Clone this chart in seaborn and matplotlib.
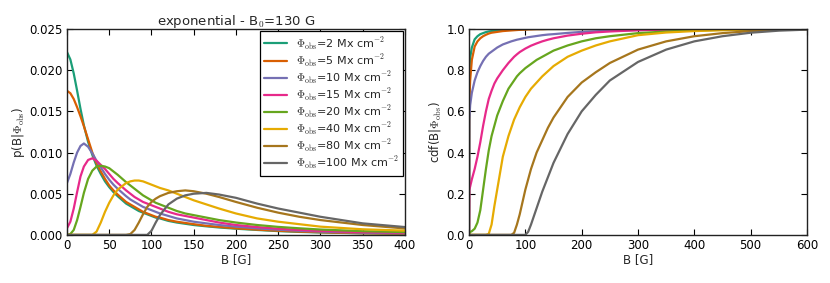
import matplotlib
matplotlib.use("Agg")
import matplotlib.pyplot as plt
import numpy as np
import pandas as pd
import seaborn as sns

# observed flux labels
phi_obs = [2, 5, 10, 15, 20, 40, 80, 100]
labels = [r"$\Phi_\mathrm{obs}$=%d Mx cm$^{-2}$" % p for p in phi_obs]

# posterior p(B|Phi_obs)
pdf_B = [0, 4, 8, 12, 16, 20, 25, 30, 35, 40, 45, 50, 55, 60, 70, 75, 80, 85,
         90, 95, 100, 105, 110, 120, 130, 140, 150, 165, 180, 200, 225, 250,
         275, 300, 350, 400]
pdf_2 = [.0222, .0213, .0196, .0175, .0153, .0133, .0113, .0097, .0084, .0074,
         .0065, .0058, .0052, .0047, .0038, .0035, .0032, .0029, .0027, .0025,
         .0023, .0021, .0020, .0017, .0015, .00135, .0012, .00104, .0009,
         .00075, .0006, .00046, .00036, .00029, .00019, .00013]
pdf_5 = [.0175, .0172, .0165, .0155, .0144, .0132, .0116, .0100, .0087, .0077,
         .0068, .0060, .0054, .0049, .0040, .0037, .0034, .0031, .0028, .0026,
         .0024, .0022, .0021, .0018, .0016, .00145, .0013, .0011, .00097,
         .0008, .00064, .0005, .0004, .00032, .0002, .00015]
pdf_10 = [.0063, .0074, .0088, .0100, .0108, .0111, .0107, .0099, .0090, .0082,
          .0074, .0067, .0061, .0056, .0047, .0043, .0040, .0037, .0034, .0032,
          .0030, .0028, .0026, .0023, .0020, .0018, .0016, .0014, .0012,
          .0010, .0008, .00063, .0005, .0004, .00027, .0002]
pdf_15 = [.0008, .0016, .0032, .0052, .0071, .0083, .0091, .0093, .0090, .0085,
          .0080, .0074, .0068, .0063, .0054, .0050, .0046, .0043, .0040, .0038,
          .0036, .0034, .0032, .0028, .0025, .0023, .0021, .0018, .0015,
          .0012, .00095, .00075, .0006, .00048, .00033, .00026]
pdf_20 = [0.0, .0001, .0006, .0018, .0034, .0051, .0068, .0078, .0083, .0084,
          .0083, .0081, .0077, .0073, .0064, .0060, .0056, .0052, .0048, .0045,
          .0042, .0039, .0037, .0033, .0029, .0026, .0024, .0021, .0018,
          .0015, .0012, .00097, .0008, .00065, .00045, .00034]
pdf_40 = [0, 0, 0, 0, 0, 0, 0, 0, .0004, .0015,
          .0028, .0039, .0048, .0055, .0063, .0065, .0066, .0066, .0065, .0063,
          .0061, .0059, .0057, .0054, .0050, .0046, .0042, .0037, .0032,
          .0026, .0020, .0016, .0013, .0010, .00068, .00052]
pdf_80 = [0, 0, 0, 0, 0, 0, 0, 0, 0, 0,
          0, 0, 0, 0, 0, .0001, .0006, .0015, .0025, .0034,
          .0040, .0044, .0047, .0051, .0053, .0054, .0053, .0050, .0046,
          .0040, .0033, .0027, .0022, .0018, .0012, .00078]
pdf_100 = [0, 0, 0, 0, 0, 0, 0, 0, 0, 0,
           0, 0, 0, 0, 0, 0, 0, 0, 0, 0,
           .0005, .0015, .0024, .0037, .0044, .0048, .0050, .0051, .0049,
           .0045, .0038, .0032, .0027, .0022, .0014, .00095]

# cumulative distribution
cdf_B = [0, 0.5, 2, 5, 10, 15, 20, 25, 30, 35, 40, 45, 50, 60, 70, 75, 80, 85,
         90, 100, 105, 110, 120, 130, 140, 150, 175, 200, 225, 250, 300, 350,
         400, 450, 500, 550, 600]
cdf_2 = [0, .80, .86, .91, .95, .965, .975, .98, .985, .988, .99, .991, .993,
         .995, .996, .997, .997, .998, .998, .999] + [1.0] * 17
cdf_5 = [0, .65, .75, .85, .915, .94, .955, .965, .972, .978, .982, .984, .986,
         .99, .992, .993, .994, .995, .996, .997, .998, .998, .999, .999] + [1.0] * 13
cdf_10 = [0, .56, .63, .69, .75, .79, .82, .845, .865, .88, .89, .90, .91,
          .925, .935, .94, .944, .948, .951, .957, .96, .962, .966, .97, .973,
          .975, .981, .986, .989, .992, .995, .997, .998, .999, .999, 1.0, 1.0]
cdf_15 = [0, .22, .235, .27, .32, .38, .45, .53, .60, .66, .70, .735, .76,
          .80, .835, .85, .865, .877, .888, .905, .912, .919, .93, .94, .948,
          .955, .968, .977, .984, .988, .994, .997, .998, .999, 1.0, 1.0, 1.0]
cdf_20 = [0, .012, .014, .018, .03, .06, .12, .22, .32, .41, .48, .53, .58,
          .65, .71, .73, .75, .77, .785, .81, .82, .83, .85, .865, .88, .895,
          .92, .94, .955, .965, .98, .988, .993, .996, .998, .999, 1.0]
cdf_40 = [0] * 9 + [.005, .05, .14, .22, .38, .48, .52, .56, .59, .62, .67,
                    .69, .71, .74, .77, .795, .82, .865, .895, .92, .94, .97,
                    .983, .99, .994, .997, .999, 1.0]
cdf_80 = [0] * 16 + [.01, .05, .10, .22, .27, .32, .40, .46, .52, .57, .67,
                     .74, .79, .835, .90, .94, .965, .98, .99, .996, 1.0]
cdf_100 = [0] * 20 + [.015, .05, .13, .21, .28, .35, .49, .60, .68, .75, .84,
                      .90, .94, .965, .982, .992, .997]

pdf_all = [pdf_2, pdf_5, pdf_10, pdf_15, pdf_20, pdf_40, pdf_80, pdf_100]
cdf_all = [cdf_2, cdf_5, cdf_10, cdf_15, cdf_20, cdf_40, cdf_80, cdf_100]

pdf_df = pd.DataFrame([(lab, b, v) for lab, vals in zip(labels, pdf_all)
                       for b, v in zip(pdf_B, vals)], columns=["label", "B", "p"])
cdf_df = pd.DataFrame([(lab, b, v) for lab, vals in zip(labels, cdf_all)
                       for b, v in zip(cdf_B, vals)], columns=["label", "B", "c"])

sns.set_style("ticks", {"xtick.direction": "in", "ytick.direction": "in"})
plt.rcParams["font.family"] = ["DejaVu Sans"]
plt.rcParams["mathtext.fontset"] = "cm"
colors = sns.color_palette("Dark2", 8)

fig = plt.figure(figsize=(8.3, 2.83), dpi=100)
ax1 = fig.add_axes([0.0807, 0.170, 0.4072, 0.7275])
ax2 = fig.add_axes([0.5651, 0.170, 0.4072, 0.7275])

sns.lineplot(data=pdf_df, x="B", y="p", hue="label", hue_order=labels,
             palette=colors, lw=1.6, ax=ax1, estimator=None)
sns.lineplot(data=cdf_df, x="B", y="c", hue="label", hue_order=labels,
             palette=colors, lw=1.6, ax=ax2, estimator=None, legend=False)

handles, labs = ax1.get_legend_handles_labels()
leg = ax1.legend(handles, labs, loc="upper right", fontsize=8, fancybox=False,
                 framealpha=1, edgecolor="black", borderaxespad=0.15,
                 handlelength=2.0, labelspacing=0.05, borderpad=0.4)
leg.get_frame().set_linewidth(0.9)

ax1.set_xlim(0, 400)
ax1.set_ylim(0, 0.025)
ax1.set_xticks(np.arange(0, 401, 50))
ax1.set_yticks(np.arange(0, 0.0251, 0.005))
ax1.yaxis.set_major_formatter(matplotlib.ticker.FormatStrFormatter("%.3f"))
ax1.set_xlabel("B [G]", fontsize=8.5, labelpad=1)
ax1.set_ylabel(r"p(B|$\Phi_\mathrm{obs}$)", fontsize=8.5, labelpad=2)
ax1.set_title(r"exponential - B$_0$=130 G", fontsize=9.5, pad=3)

ax2.set_xlim(0, 600)
ax2.set_ylim(0, 1.0)
ax2.set_xticks(np.arange(0, 601, 100))
ax2.set_yticks(np.arange(0, 1.01, 0.2))
ax2.yaxis.set_major_formatter(matplotlib.ticker.FormatStrFormatter("%.1f"))
ax2.set_xlabel("B [G]", fontsize=8.5, labelpad=1)
ax2.set_ylabel(r"cdf(B|$\Phi_\mathrm{obs}$)", fontsize=8.5, labelpad=2)

for ax in (ax1, ax2):
    ax.tick_params(direction="in", top=True, right=True, length=4, width=0.8,
                   labelsize=8.5, colors="black", pad=3)
    for s in ax.spines.values():
        s.set_color("#222222")
        s.set_linewidth(1.0)

fig.savefig("out.png", dpi=100)
